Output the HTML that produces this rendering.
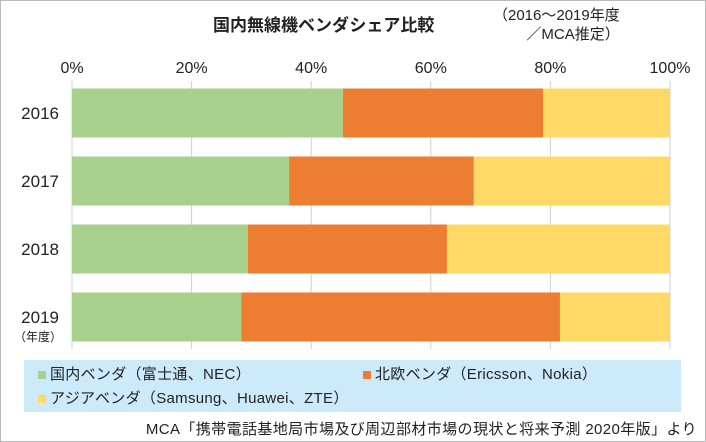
<!DOCTYPE html>
<html><head><meta charset="utf-8"><style>
body{margin:0;background:#fff;font-family:"Liberation Sans","Noto Sans CJK JP",sans-serif;}
#c{position:relative;width:706px;height:442px;box-sizing:border-box;border:1px solid #bbb;overflow:hidden}
.t{position:absolute;white-space:nowrap;color:#222}
</style></head><body>
<div id="c">
<div class="t" style="left:212px;top:10px;font-size:17px;font-weight:bold">国内無線機ベンダシェア比較</div>
<div class="t" style="left:492px;top:5px;font-size:15px;line-height:19px;text-align:right">（2016～2019年度<br>／MCA推定）</div>
<svg id="s" width="706" height="442" style="position:absolute;left:0;top:0"></svg>
<div style="position:absolute;left:23px;top:359px;width:657px;height:52px;background:#cdeafb"></div>
<div class="t" style="left:37px;top:362px;font-size:15px;letter-spacing:0.3px"><span style="display:inline-block;width:8px;height:8px;background:#a9d18e;margin-right:4px"></span>国内ベンダ（富士通、NEC）</div>
<div class="t" style="left:362px;top:362px;font-size:15px;letter-spacing:0.3px"><span style="display:inline-block;width:8px;height:8px;background:#ed7d31;margin-right:4px"></span>北欧ベンダ（Ericsson、Nokia）</div>
<div class="t" style="left:37px;top:386px;font-size:15px;letter-spacing:0.3px"><span style="display:inline-block;width:8px;height:8px;background:#ffd966;margin-right:4px"></span>アジアベンダ（Samsung、Huawei、ZTE）</div>
<div class="t" style="right:8px;top:417px;font-size:15px;letter-spacing:0.4px">MCA「携帯電話基地局市場及び周辺部材市場の現状と将来予測 2020年版」より</div>
</div>
<script>
const categories=["2016","2017","2018","2019"];
const domestic=[45.3,36.3,29.4,28.3];
const nordic=[33.5,30.9,33.3,53.3];
const asia=[21.2,32.8,37.3,18.4];
const ticks=["0%","20%","40%","60%","80%","100%"];
const s=document.getElementById('s');const NS="http://www.w3.org/2000/svg";
const x0=71,x1=669,bandTop=80,band=68,barH=49;
const X=v=>x0+(x1-x0)*v/100;
function el(t,a){const e=document.createElementNS(NS,t);for(const k in a)e.setAttribute(k,a[k]);s.appendChild(e);return e;}
ticks.forEach((t,i)=>{const v=i*100/(ticks.length-1);
const l=el('line',{x1:X(v),x2:X(v),y1:80,y2:348,stroke:'#d0d0d0','stroke-width':1});

const tx=el('text',{x:X(v),y:72,'text-anchor':'middle','font-size':16,fill:'#222'});tx.textContent=t;
});
const series=[[domestic,'#a9d18e','domestic'],[nordic,'#ed7d31','nordic'],[asia,'#ffd966','asia']];
categories.forEach((c,i)=>{const y=bandTop+i*band+7.5;let acc=0;
series.forEach(([d,col,n])=>{const r=el('rect',{x:X(acc),y:y,width:X(acc+d[i])-X(acc),height:barH,fill:col});
acc+=d[i];});
const tx=el('text',{x:58,y:y+barH/2+6,'text-anchor':'end','font-size':17,fill:'#222'});tx.textContent=c;
});
const u=el('text',{x:61,y:340,'text-anchor':'end','font-size':12,fill:'#222'});u.textContent='（年度）';

</script>
</body></html>
